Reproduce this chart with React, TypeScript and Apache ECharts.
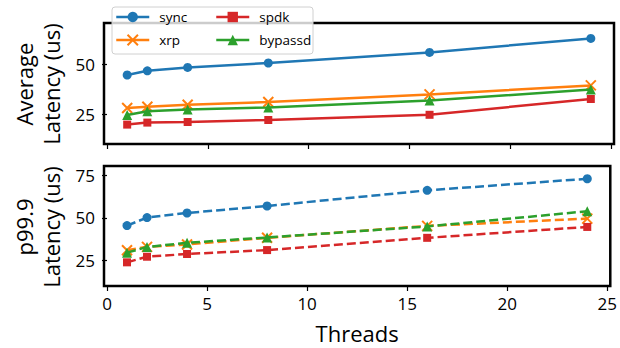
import React, { useEffect, useRef } from "react";
import * as echarts from "echarts";

const threads = [1, 2, 4, 8, 16, 24];
const seriesNames = ["sync", "xrp", "spdk", "bypassd"];
const avgSync = [44.5, 46.6, 48.3, 50.5, 55.8, 62.8];
const avgXrp = [28.0, 28.6, 29.6, 31.0, 34.8, 39.3];
const avgSpdk = [19.7, 20.7, 21.0, 22.0, 24.6, 32.5];
const avgBypassd = [24.5, 26.4, 27.2, 28.3, 31.7, 37.2];
const p99Sync = [45.5, 50.2, 52.9, 57.0, 66.2, 73.0];
const p99Xrp = [31.0, 33.0, 34.4, 38.3, 45.3, 49.6];
const p99Spdk = [23.9, 27.2, 28.8, 31.1, 38.3, 44.7];
const p99Bypassd = [29.6, 32.9, 35.4, 38.5, 45.0, 53.9];
const xTicks = [0, 5, 10, 15, 20, 25];
const yTicksTop = [25, 50];
const yTicksBottom = [25, 50, 75];
const xLabel = "Threads";
const yLabelTop = "Average\nLatency (us)";
const yLabelBottom = "p99.9\nLatency (us)";

const colors = ["#1f77b4", "#ff7f0e", "#d62728", "#2ca02c"];
const symbols = ["circle", "path://M0,0L10,10M10,0L0,10", "rect", "triangle"];
const symbolSizes = [9, 10, 8, 10];
const FONT = "Open Sans";

export default function App() {
  const ref = useRef<HTMLDivElement>(null);
  useEffect(() => {
    if (!ref.current) return;
    const chart = echarts.init(ref.current, undefined, { renderer: "svg" });
    const avg = [avgSync, avgXrp, avgSpdk, avgBypassd];
    const p99 = [p99Sync, p99Xrp, p99Spdk, p99Bypassd];
    const mk = (data: number[], i: number, axis: number, dashed: boolean) => ({
      type: "line",
      name: seriesNames[i],
      xAxisIndex: axis,
      yAxisIndex: axis,
      data: threads.map((t, k) => [t, data[k]]),
      symbol: symbols[i],
      symbolSize: symbolSizes[i],
      showAllSymbol: true,
      lineStyle: { color: colors[i], width: 2.5, type: dashed ? [9, 4] : "solid" },
      itemStyle: {
        color: colors[i],
        borderColor: colors[i],
        borderWidth: i === 1 ? 2 : 0,
      },
      emphasis: { disabled: true },
      z: 2 + i,
    });
    const xAxisBase = (grid: number, labels: boolean) => ({
      type: "value",
      gridIndex: grid,
      min: -0.15,
      max: 25.15,
      splitLine: { show: false },
      axisLine: { show: false },
      axisTick: {
        show: true,
        customValues: xTicks,
        length: 5,
        inside: false,
        lineStyle: { color: "#000", width: 1.2 },
      },
      axisLabel: {
        show: labels,
        customValues: xTicks,
        color: "#000",
        fontFamily: FONT,
        fontSize: 17,
        margin: 9,
      },
      name: labels ? xLabel : "",
      nameLocation: "middle",
      nameGap: 36,
      nameTextStyle: { color: "#000", fontFamily: FONT, fontSize: 22 },
    });
    const yAxisBase = (grid: number, max: number, ticks: number[]) => ({
      type: "value",
      gridIndex: grid,
      min: 10,
      max,
      splitLine: { show: false },
      axisLine: { show: false },
      axisTick: {
        show: true,
        customValues: ticks,
        length: 5,
        inside: false,
        lineStyle: { color: "#000", width: 1.2 },
      },
      axisLabel: {
        customValues: ticks,
        color: "#000",
        fontFamily: FONT,
        fontSize: 17,
        margin: 9,
      },
    });
    const legendPos = [
      { name: "sync", left: 115, top: 11 },
      { name: "xrp", left: 115, top: 34 },
      { name: "spdk", left: 215, top: 11 },
      { name: "bypassd", left: 215, top: 34 },
    ];
    chart.setOption({
      animation: false,
      grid: [
        { left: 104, top: 23, width: 510, height: 121, show: true, borderColor: "#000", borderWidth: 2.5, backgroundColor: "transparent" },
        { left: 104, top: 166, width: 510, height: 120, show: true, borderColor: "#000", borderWidth: 2.5, backgroundColor: "transparent" },
      ],
      xAxis: [xAxisBase(0, false), xAxisBase(1, true)],
      yAxis: [yAxisBase(0, 70.5, yTicksTop), yAxisBase(1, 80.5, yTicksBottom)],
      legend: legendPos.map((p) => ({
        data: [p.name],
        left: p.left,
        top: p.top - 1,
        padding: 0,
        itemWidth: 33,
        itemHeight: 13,
        itemGap: 0,
        selectedMode: false,
        z: 20,
        lineStyle: { width: 2.5 },
        textStyle: { color: "#000", fontFamily: FONT, fontSize: 13.5, padding: [0, 0, 0, 5] },
      })),
      graphic: [
        {
          type: "rect",
          z: 15,
          shape: { x: 112, y: 7, width: 201, height: 47, r: 3 },
          style: { fill: "rgba(255,255,255,0.8)", stroke: "#d0d0d0", lineWidth: 1 },
        },
        {
          type: "text",
          x: 37,
          y: 84,
          rotation: Math.PI / 2,
          style: {
            text: yLabelTop,
            fontFamily: FONT,
            fontSize: 22,
            lineHeight: 27,
            fill: "#000",
            textAlign: "center",
            textVerticalAlign: "middle",
          },
        },
        {
          type: "text",
          x: 37,
          y: 227,
          rotation: Math.PI / 2,
          style: {
            text: yLabelBottom,
            fontFamily: FONT,
            fontSize: 22,
            lineHeight: 27,
            fill: "#000",
            textAlign: "center",
            textVerticalAlign: "middle",
          },
        },
      ],
      series: [
        ...avg.map((d, i) => mk(d, i, 0, false)),
        ...p99.map((d, i) => mk(d, i, 1, true)),
      ],
    });
    return () => chart.dispose();
  }, []);
  return (
    <div
      ref={ref}
      style={{ position: "absolute", left: 0, top: 0, width: 620, height: 348, background: "#fff" }}
    />
  );
}
